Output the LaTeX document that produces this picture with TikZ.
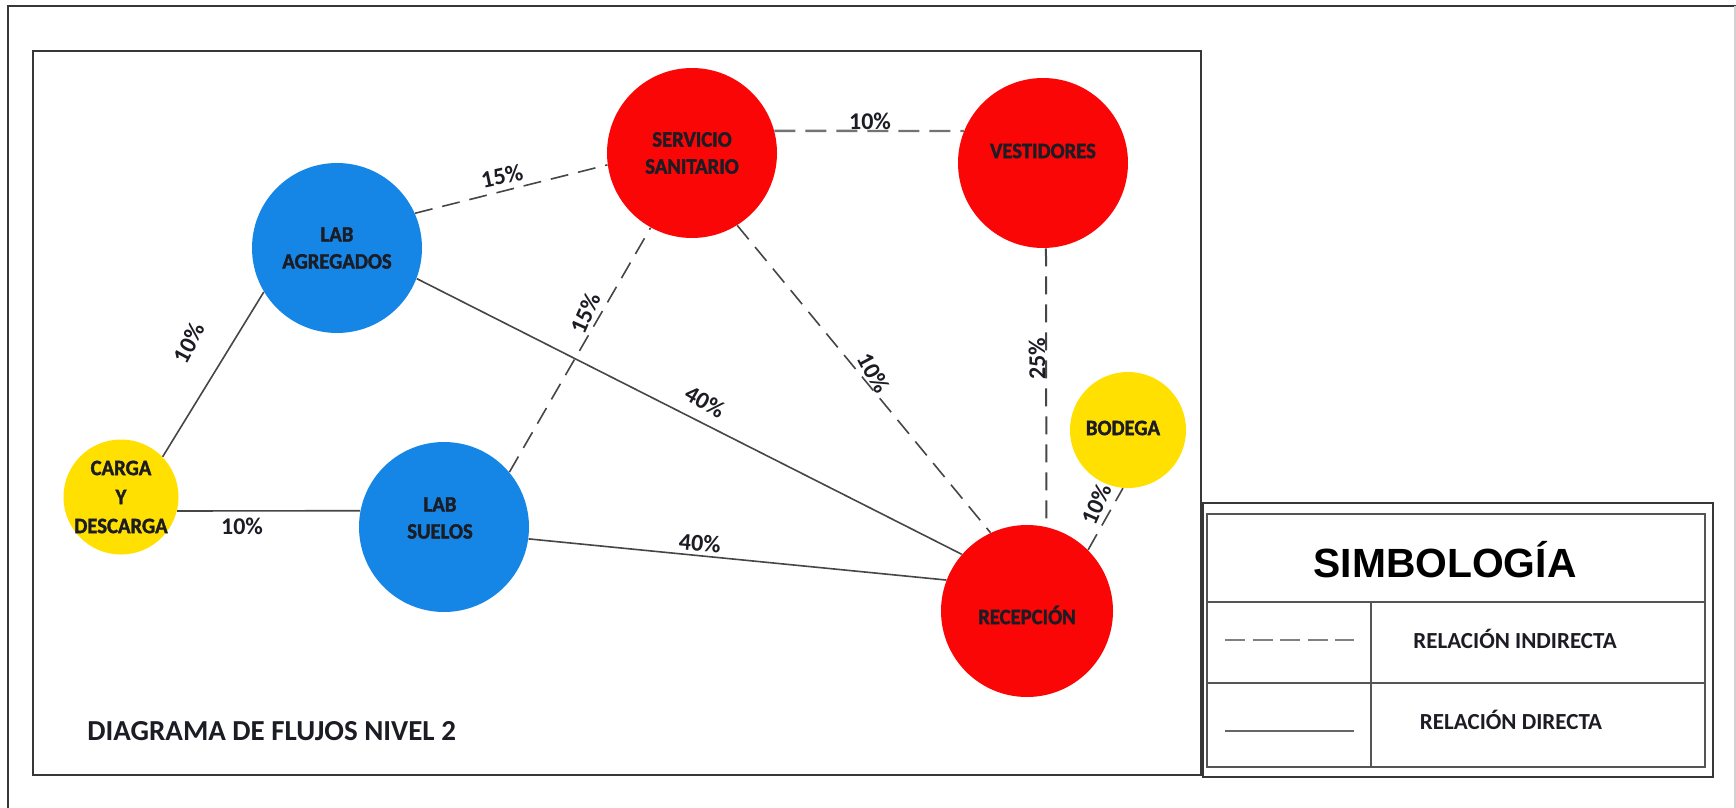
\documentclass[tikz,border=0pt]{standalone}
\usepackage{fontspec}
\setmainfont{Carlito}
\newfontfamily\arialf{Liberation Sans}
\newfontfamily\heavyf[FakeBold=1.6,FakeStretch=0.94]{Carlito}
\definecolor{cred}{RGB}{250,6,6}
\definecolor{cblue}{RGB}{22,134,230}
\definecolor{cyellow}{RGB}{255,224,0}
\definecolor{ink}{RGB}{28,28,36}
\definecolor{edgec}{RGB}{70,70,70}
\definecolor{framec}{RGB}{55,55,55}
\definecolor{gridc}{RGB}{85,85,85}
\begin{document}
\begin{tikzpicture}[x=0.5pt,y=-0.5pt,
  areanode/.style={circle,inner sep=0pt,minimum size=#1},
  ntext/.style={font=\heavyf\bfseries\fontsize{11}{13.5}\selectfont,text=ink,align=center,inner sep=0pt},
  pct/.style={font=\bfseries\fontsize{12}{14}\selectfont,text=ink,inner sep=1pt},
  solidedge/.style={draw=edgec,line width=0.8pt},
  dashedge/.style={draw=edgec,line width=0.8pt,dash pattern=on 9pt off 5pt},
  legt/.style={font=\bfseries\fontsize{11.5}{14}\selectfont,text=ink}]
\useasboundingbox (0,0) rectangle (1736,808);
\fill[white] (0,0) rectangle (1736,808);
% frames
\draw[framec,line width=1.3pt] (8,808) -- (8,6) -- (1736,6);
\draw[gray!35,line width=0.6pt] (1735,6) -- (1735,808);
\draw[framec,line width=1.2pt] (33,51) rectangle (1201,775);
% nodes
\node[areanode=57.5pt,fill=cyellow,label={[ntext,font=\heavyf\bfseries\fontsize{11}{14.5}\selectfont]center:{CARGA\\Y\\DESCARGA}}] (carga) at (121,497) {};
\node[areanode=85pt,fill=cblue,label={[ntext]center:{LAB\\AGREGADOS}}] (ag) at (337,248) {};
\node[areanode=85pt,fill=cblue,label={[ntext,yshift=4.5pt,xshift=-2pt]center:{LAB\\SUELOS}}] (suelos) at (444,527) {};
\node[areanode=85pt,fill=cred,label={[ntext]center:{SERVICIO\\SANITARIO}}] (serv) at (692,153) {};
\node[areanode=85pt,fill=cred,label={[ntext,yshift=6pt]center:{VESTIDORES}}] (vest) at (1043,163) {};
\node[areanode=86pt,fill=cred,label={[ntext,yshift=-2pt]center:{RECEPCIÓN}}] (recep) at (1027,611) {};
\node[areanode=58pt,fill=cyellow,label={[ntext,xshift=-2.5pt,yshift=1pt]center:{BODEGA}}] (bodega) at (1128,430) {};
% edges
\draw[solidedge] (carga.44) -- (ag.211);
\draw[solidedge] (carga.-14) -- (suelos.169);
\draw[dashedge] (ag.24) -- (serv.188);
\draw[solidedge] (ag.-21) -- (recep.139);
\draw[solidedge] (suelos.-8) -- (recep.159);
\draw[dashedge] (suelos.40) -- (serv.241);
\draw[dashedge] (serv.-58) -- (recep.115);
\draw[dashedge,line width=1pt] (vest.-88) -- (recep.77);
\draw[dashedge] (recep.45) -- (bodega.-95);
\draw[dashedge,line width=1.2pt,draw=gray!90!black,dash pattern=on 10.5pt off 5pt] (serv.15) -- (vest.158);
% percentages
\node[pct,rotate=62] (p1) at (189,343) {10\%};
\node[pct] (p2) at (242,526) {10\%};
\node[pct,rotate=12] (p3) at (502,176) {15\%};
\node[pct,rotate=-30] (p4) at (705,402) {40\%};
\node[pct,rotate=-5] (p5) at (700,543) {40\%};
\node[pct,rotate=66] (p6) at (586,313) {15\%};
\node[pct,rotate=-62] (p7) at (874,373) {10\%};
\node[pct,rotate=90] (p8) at (1037,359) {25\%};
\node[pct,rotate=66] (p9) at (1097,504) {10\%};
\node[pct] (p10) at (870,121) {10\%};
% title
\node[font=\bfseries\fontsize{14.5}{17}\selectfont,text=ink,anchor=west,inner sep=0pt] (title) at (87,731) {DIAGRAMA DE FLUJOS NIVEL 2};
% legend
\draw[framec,line width=1.4pt] (1203,503) rectangle (1713,777);
\draw[gridc,line width=0.9pt] (1207,514) rectangle (1705,767);
\draw[gridc,line width=0.9pt] (1207,602) -- (1705,602);
\draw[gridc,line width=0.9pt] (1207,683) -- (1705,683);
\draw[gridc,line width=0.9pt] (1371,602) -- (1371,767);
\node[font=\arialf\bfseries\fontsize{20.4}{24}\selectfont,text=black] (simb) at (1445,560) {SIMBOLOGÍA};
\coordinate (d1) at (1225,640);
\coordinate (d2) at (1354,640);
\draw[gray,line width=1.1pt,dash pattern=on 10pt off 3.75pt] (d1) -- (d2);
\coordinate (s1) at (1225,731);
\coordinate (s2) at (1354,731);
\draw[gray!80!black,line width=0.9pt] (s1) -- (s2);
\node[legt] (rind) at (1515,639) {RELACIÓN INDIRECTA};
\node[legt] (rdir) at (1511,720) {RELACIÓN DIRECTA};
\end{tikzpicture}
\end{document}
